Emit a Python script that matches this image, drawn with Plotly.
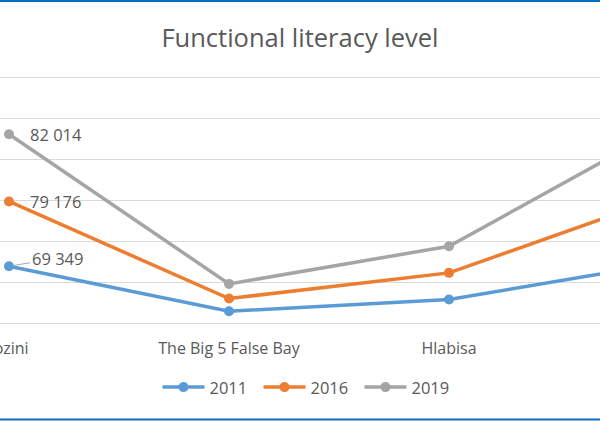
import numpy as np
import plotly.graph_objects as go

# Stacked line chart (Excel style): each series adds on top of the previous one
municipalities = ["Jozini", "The Big 5 False Bay", "Hlabisa", "Mtubatuba"]
years = ["2011", "2016", "2019"]
lit_2011 = [69349, 14400, 28650, 74300]
lit_2016 = [79176, 15500, 32600, 81700]
lit_2019 = [82014, 17900, 32500, 85900]

series = [lit_2011, lit_2016, lit_2019]
colors = ["#5b9bd5", "#ed7d31", "#a5a5a5"]
txt = "#595959"
font_family = "Open Sans"

fig = go.Figure()
for name, vals, col in zip(years, series, colors):
    fig.add_trace(go.Scatter(
        x=municipalities, y=vals, name=name,
        mode="lines+markers", stackgroup="one", fill="none",
        line=dict(color=col, width=3.5),
        marker=dict(color=col, size=10),
        hoverinfo="x+y+name",
    ))

# data labels on the first category (the individual, not stacked, values)
cum = np.cumsum([s[0] for s in series])
for i, (vals, c) in enumerate(zip(series, cum)):
    label = f"{vals[0]:,}".replace(",", " ")
    if i == 0:
        fig.add_annotation(x=0, y=c, text=label, showarrow=True,
                           ax=48, ay=-8, arrowhead=0, arrowwidth=1,
                           arrowcolor="#a6a6a6", standoff=4,
                           font=dict(size=16.5, color=txt, family=font_family))
    else:
        fig.add_annotation(x=0, y=c, text=label, showarrow=False,
                           xanchor="left", xshift=19,
                           font=dict(size=16.5, color=txt, family=font_family))

# plot area: 300k gridline at 77.5px, zero at 323.5px (range padded a bit
# so the top gridline is still drawn)
y_top = 303000
top_px, zero_px = 77.5, 323.5
t = top_px - (y_top - 300000) * (zero_px - top_px) / 300000
b = 421 - zero_px
h = zero_px - t

# blue frame lines at top and bottom of the picture
for py in [0.8, 420.2]:
    yy = (zero_px - py) / h
    fig.add_shape(type="line", xref="paper", yref="paper",
                  x0=0, x1=1, y0=yy, y1=yy,
                  line=dict(color="#0b6fc0", width=2))

fig.update_layout(
    width=600, height=421,
    margin=dict(l=0, r=0, t=t, b=b),
    paper_bgcolor="white", plot_bgcolor="white",
    font=dict(family=font_family, color=txt),
    title=dict(text="Functional literacy level", x=0.5, xanchor="center",
               y=1 - 38 / 421, yanchor="middle", yref="container",
               font=dict(size=25.5, color=txt, family=font_family)),
    legend=dict(orientation="h", x=0.515, xanchor="center",
                y=(zero_px - 388) / h, yanchor="middle",
                itemwidth=42, entrywidth=44,
                font=dict(size=16.5, color=txt, family=font_family)),
    showlegend=True,
)
fig.update_xaxes(range=[-9 / 220, -9 / 220 + 600 / 220], showgrid=False,
                 showline=False, ticks="", ticklabelstandoff=14,
                 automargin=False,
                 tickfont=dict(size=16, color=txt, family=font_family))
fig.update_yaxes(range=[0, y_top], tickvals=[0, 50000, 100000, 150000,
                                             200000, 250000, 300000],
                 showgrid=True, gridcolor="#d9d9d9", gridwidth=1.3,
                 zeroline=True, zerolinecolor="#d9d9d9", zerolinewidth=1.3,
                 showticklabels=False, ticks="", automargin=False)

fig.write_html("out.html", config={"displayModeBar": False},
               post_script="document.body.style.margin='0';")
